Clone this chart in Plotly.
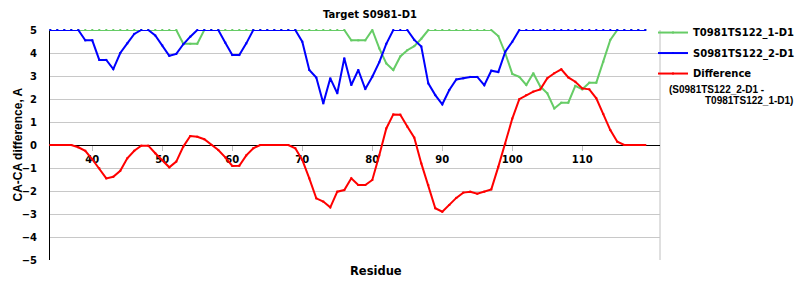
import plotly.graph_objects as go

# ---- data ----
residues = [34, 35, 36, 37, 38, 39, 40, 41, 42, 43, 44, 45, 46, 47, 48, 49, 50,
            51, 52, 53, 54, 55, 56, 57, 58, 59, 60, 61, 62, 63, 64, 65, 66, 67,
            68, 69, 70, 71, 72, 73, 74, 75, 76, 77, 78, 79, 80, 81, 82, 83, 84,
            85, 86, 87, 88, 89, 90, 91, 92, 93, 94, 95, 96, 97, 98, 99, 100,
            101, 102, 103, 104, 105, 106, 107, 108, 109, 110, 111, 112, 113,
            114, 115, 116, 117, 118, 119]

# T0981TS122_1-D1 (green)
model_1 = [5, 5, 5, 5, 5, 5, 5, 5, 5, 5, 5, 5, 5, 5, 5, 5, 5, 5, 5,        # 34-52
           4.4, 4.4, 4.4,                                                    # 53-55
           5, 5, 5, 5, 5, 5, 5, 5, 5, 5, 5, 5, 5, 5, 5, 5, 5, 5, 5, 5, 5,   # 56-76
           4.55, 4.55, 4.55,                                                 # 77-79
           5,                                                                # 80
           4.2, 3.55, 3.26, 3.85, 4.12, 4.3, 4.62,                           # 81-87
           5, 5, 5, 5, 5, 5, 5, 5, 5, 5,                                     # 88-97
           4.74, 3.99, 3.09, 2.96, 2.61, 3.12, 2.54, 2.25, 1.59, 1.84,       # 98-107
           1.84, 2.57, 2.42, 2.71, 2.71, 3.62, 4.57,                         # 108-114
           5, 5, 5, 5, 5]                                                    # 115-119

# S0981TS122_2-D1 (blue)
model_2 = [5, 5, 5, 5, 5,                                                    # 34-38
           4.55, 4.55, 3.7, 3.7, 3.3, 4.0, 4.42, 4.83, 5, 5,                 # 39-48
           4.76, 4.33, 3.88, 3.96, 4.38, 4.71, 5, 5, 5, 5,                   # 49-58
           4.45, 3.91, 3.91, 4.42, 5,                                        # 59-63
           5, 5, 5, 5, 5, 5,                                                 # 64-69
           4.49, 3.26, 2.93, 1.81, 2.9, 2.25, 3.77, 2.61, 3.26, 2.43,        # 70-79
           2.97, 3.6, 4.4, 5, 5, 5, 4.57, 4.28, 2.68, 2.17,                  # 80-89
           1.77, 2.39, 2.85, 2.9, 2.96, 2.96, 2.6, 3.23, 3.17, 4.06, 4.49,   # 90-100
           5, 5, 5, 5, 5, 5, 5, 5, 5, 5, 5, 5, 5, 5, 5, 5, 5, 5, 5]          # 101-119

# Difference (S0981TS122_2-D1 - T0981TS122_1-D1) (red)
difference = [0, 0, 0, 0, -0.1, -0.25, -0.62, -1.01, -1.45, -1.38,         # 34-43
              -1.12, -0.58, -0.25, -0.03, -0.03, -0.36, -0.65, -0.97,       # 44-51
              -0.72, -0.07, 0.39, 0.36, 0.25, 0.0, -0.22, -0.54, -0.91,     # 52-60
              -0.9, -0.45, -0.14, 0, 0, 0, 0, 0, -0.14, -0.65,              # 61-70
              -1.45, -2.32, -2.46, -2.71, -2.03, -1.96, -1.45, -1.74,       # 71-78
              -1.74, -1.52, -0.45, 0.72, 1.33, 1.32, 0.8, 0.32, -0.8,       # 79-87
              -1.74, -2.75, -2.9, -2.61, -2.3, -2.07, -2.03, -2.12, -2.03,  # 88-96
              -1.93, -0.95, 0.05, 1.15, 1.99, 2.17, 2.32, 2.42, 2.9,        # 97-105
              3.12, 3.29, 2.94, 2.75, 2.46, 2.42, 2.03, 1.35, 0.65, 0.14,   # 106-115
              0, 0, 0, 0]                                                   # 116-119

x_tick_values = [40, 50, 60, 70, 80, 90, 100, 110]
y_tick_values = [-5, -4, -3, -2, -1, 0, 1, 2, 3, 4, 5]

title_text = "Target S0981-D1"
x_title = "Residue"
y_title = "CA-CA difference, A"
name_1 = "T0981TS122_1-D1"
name_2 = "S0981TS122_2-D1"
name_diff = "Difference"
diff_note_1 = "(S0981TS122_2-D1 -"
diff_note_2 = "T0981TS122_1-D1)"

SANS = "DejaVu Sans"
ARIAL = "Liberation Sans"

fig = go.Figure()
for yv, nm, col in [(model_1, name_1, "#66cc66"),
                    (model_2, name_2, "#0000ff"),
                    (difference, name_diff, "#ff0000")]:
    fig.add_trace(go.Scatter(
        x=residues, y=yv, name=nm, mode="lines+markers", legendgroup=nm,
        line=dict(color=col, width=2),
        marker=dict(size=2, symbol="square", color=col),
        cliponaxis=False,
    ))

fig.update_layout(
    width=800, height=300,
    margin=dict(l=50, r=140, t=30, b=40, autoexpand=False),
    paper_bgcolor="white", plot_bgcolor="white",
    font=dict(family=SANS, size=10, color="black"),
    title=dict(text=title_text, x=0.5246, xref="paper", xanchor="center",
               y=1 - 14 / 300, yref="container", yanchor="middle",
               font=dict(family=SANS, size=10, weight="bold", color="black")),
    showlegend=True,
    legend=dict(x=(653 - 50) / 610, xanchor="left", y=1.052, yanchor="top",
                font=dict(family=SANS, size=10, weight="bold", color="black"),
                bgcolor="rgba(0,0,0,0)", borderwidth=0, tracegroupgap=1.5),
    xaxis=dict(range=[33.96, 121.1], anchor="free", position=0.5,
               showline=True, linecolor="black", linewidth=1,
               ticks="outside", ticklen=5, tickcolor="#c0c0c0",
               tickvals=x_tick_values, showgrid=False, zeroline=False,
               tickfont=dict(family=SANS, size=10, weight="bold", color="black"),
               layer="below traces", fixedrange=True),
    yaxis=dict(range=[-5, 5], tickvals=y_tick_values,
               showline=True, linecolor="black", linewidth=1,
               showgrid=True, gridcolor="#c8c8c8", gridwidth=1,
               zeroline=False, ticks="outside", ticklen=10,
               tickcolor="rgba(0,0,0,0)",
               tickfont=dict(family=SANS, size=10, weight="bold", color="black"),
               layer="below traces", fixedrange=True),
    shapes=[dict(type="line", xref="paper", yref="paper", x0=1, x1=1, y0=0, y1=1,
                 line=dict(color="#c0c0c0", width=1), layer="below")],
    annotations=[
        dict(text=y_title, textangle=-90, xref="paper", yref="paper",
             x=(17.5 - 50) / 610, y=0.5, xanchor="center", yanchor="middle",
             showarrow=False,
             font=dict(family=ARIAL, size=12, weight="bold", color="black")),
        dict(text=x_title, xref="paper", yref="paper",
             x=(376 - 50) / 610, y=(260 - 271) / 230, xanchor="center", yanchor="middle",
             showarrow=False,
             font=dict(family=SANS, size=11.5, weight="bold", color="black")),
        dict(text=diff_note_1, xref="paper", yref="paper",
             x=(667 - 50) / 610, y=(260 - 89) / 230, xanchor="left", yanchor="middle",
             showarrow=False,
             font=dict(family=ARIAL, size=10, weight="bold", color="black")),
        dict(text=diff_note_2, xref="paper", yref="paper",
             x=(703 - 50) / 610, y=(260 - 100) / 230, xanchor="left", yanchor="middle",
             showarrow=False,
             font=dict(family=ARIAL, size=10, weight="bold", color="black")),
    ],
)

fig.write_html("out.html")
